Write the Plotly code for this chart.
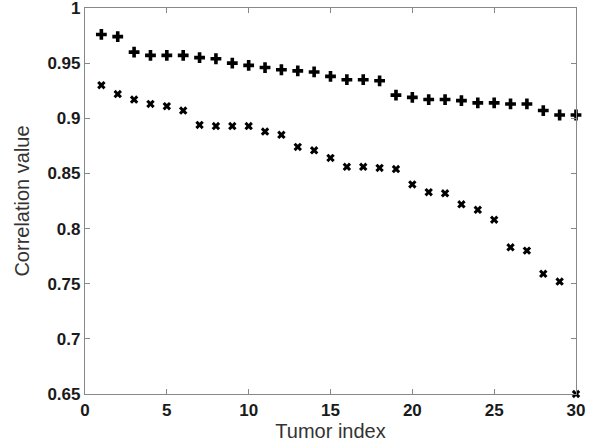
import plotly.graph_objects as go

tumor_index = list(range(1, 31))
series_plus = [0.976, 0.974, 0.960, 0.957, 0.957, 0.957, 0.955, 0.954, 0.950, 0.948,
               0.946, 0.944, 0.943, 0.942, 0.938, 0.935, 0.935, 0.934, 0.921, 0.919,
               0.917, 0.917, 0.916, 0.914, 0.914, 0.913, 0.913, 0.907, 0.903, 0.903]
series_cross = [0.930, 0.922, 0.917, 0.913, 0.911, 0.907, 0.894, 0.893, 0.893, 0.893,
                0.888, 0.885, 0.874, 0.871, 0.864, 0.856, 0.856, 0.855, 0.854, 0.840,
                0.833, 0.832, 0.822, 0.817, 0.808, 0.783, 0.780, 0.759, 0.752, 0.650]
x_ticks = [0, 5, 10, 15, 20, 25, 30]
y_ticks = [0.65, 0.7, 0.75, 0.8, 0.85, 0.9, 0.95, 1]
y_tick_labels = ["0.65", "0.7", "0.75", "0.8", "0.85", "0.9", "0.95", "1"]

fig = go.Figure()
fig.add_trace(go.Scatter(x=tumor_index, y=series_plus, mode="markers",
                         marker=dict(symbol="cross", size=9, color="black"),
                         cliponaxis=False, showlegend=False))
fig.add_trace(go.Scatter(x=tumor_index, y=series_cross, mode="markers",
                         marker=dict(symbol="x", size=7.5, color="black"),
                         cliponaxis=False, showlegend=False))

axis_common = dict(showgrid=False, zeroline=False, showline=True, linecolor="#888888",
                   linewidth=1.2, mirror="ticks", ticks="inside", ticklen=5,
                   tickcolor="#888888", ticklabeloverflow="allow", automargin=False,
                   tickfont=dict(family="Liberation Sans, Arial", size=17, color="#1a1a1a",
                                 weight="bold"))

title_font = dict(family="Liberation Sans, Arial", size=20, color="#333333")

fig.update_layout(
    width=592, height=447,
    margin=dict(l=85, r=16, t=8, b=53),
    paper_bgcolor="white", plot_bgcolor="white",
    xaxis=dict(range=[0, 30], tickvals=x_ticks,
               title=dict(text="Tumor index", standoff=0, font=title_font),
               **axis_common),
    yaxis=dict(range=[0.65, 1], tickvals=y_ticks, ticktext=y_tick_labels,
               title=dict(text="Correlation value", standoff=12, font=title_font),
               **axis_common),
)

fig.write_html("out.html")
